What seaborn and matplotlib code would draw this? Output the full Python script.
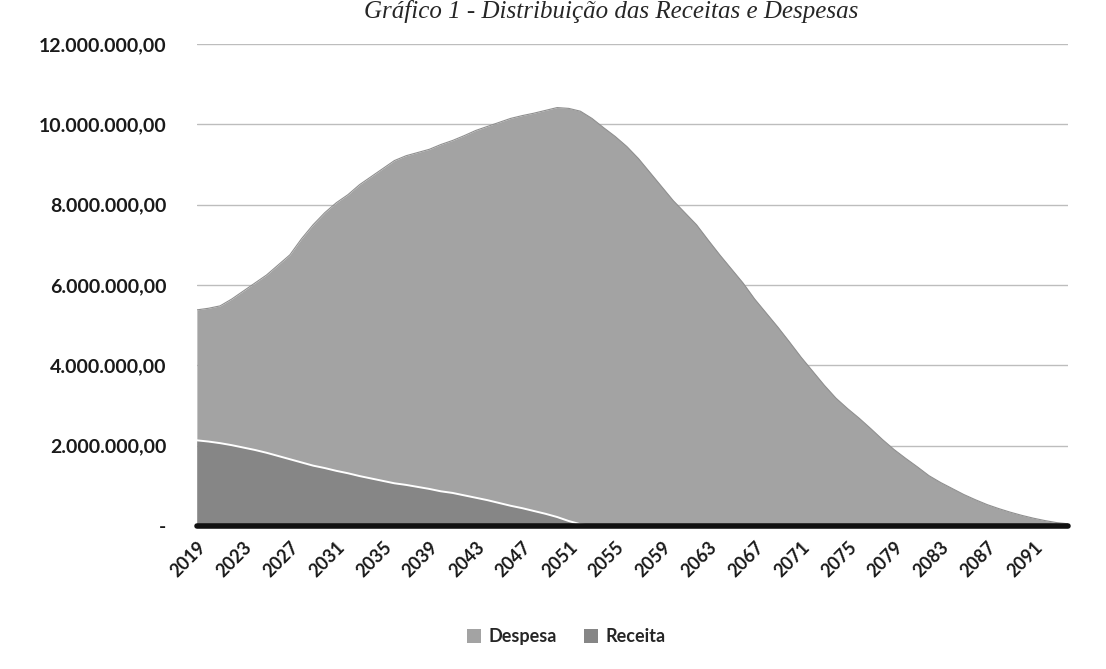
import numpy as np
import pandas as pd
import matplotlib
matplotlib.use("Agg")
import matplotlib.pyplot as plt
import matplotlib.ticker as mticker
import seaborn as sns

# Anos da projeção
anos = list(range(2019, 2095))

# Despesa (milhões R$)
despesa_mi = [
    5.38, 5.42, 5.48, 5.65, 5.85, 6.05, 6.25, 6.50, 6.75, 7.15,
    7.50, 7.80, 8.05, 8.25, 8.50, 8.70, 8.90, 9.10, 9.22, 9.30,
    9.38, 9.50, 9.60, 9.72, 9.85, 9.95, 10.05, 10.15, 10.22, 10.28,
    10.35, 10.42, 10.40, 10.33, 10.15, 9.92, 9.70, 9.45, 9.15, 8.80,
    8.45, 8.10, 7.80, 7.50, 7.12, 6.75, 6.40, 6.05, 5.65, 5.30,
    4.95, 4.58, 4.20, 3.85, 3.50, 3.18, 2.92, 2.68, 2.42, 2.15,
    1.90, 1.68, 1.47, 1.25, 1.08, 0.93, 0.78, 0.65, 0.53, 0.43,
    0.34, 0.26, 0.19, 0.13, 0.08, 0.05,
]

# Receita (milhões R$)
receita_mi = [
    2.13, 2.10, 2.06, 2.01, 1.95, 1.89, 1.82, 1.74, 1.66, 1.58,
    1.50, 1.44, 1.37, 1.31, 1.24, 1.18, 1.12, 1.06, 1.02, 0.97,
    0.92, 0.86, 0.82, 0.76, 0.70, 0.64, 0.57, 0.50, 0.44, 0.37,
    0.30, 0.22, 0.12, 0.04,
] + [0.0] * 42

df = pd.DataFrame({
    "Ano": anos,
    "Despesa": np.array(despesa_mi) * 1e6,
    "Receita": np.array(receita_mi) * 1e6,
})
df["idx"] = np.arange(len(df))

COR_DESPESA = "#a3a3a3"
COR_RECEITA = "#868686"

sns.set_theme(style="white")
plt.rcParams["font.family"] = ["Lato", "DejaVu Sans"]

fig = plt.figure(figsize=(11.06, 6.69), dpi=100)
ax = fig.add_axes([0.178, 0.214, 0.788, 0.72])

# gridlines atrás das áreas
for v in range(2, 13, 2):
    ax.axhline(v * 1e6, color="#bdbdbd", linewidth=1, zorder=0)

ax.fill_between(df["idx"], 0, df["Despesa"], color=COR_DESPESA, linewidth=0, zorder=1, label="Despesa")
ax.fill_between(df["idx"], 0, df["Receita"], color=COR_RECEITA, linewidth=0, zorder=2, label="Receita")
sns.lineplot(data=df, x="idx", y="Receita", ax=ax, color="white", linewidth=1.4, zorder=3, legend=False)
sns.lineplot(data=df, x="idx", y="Despesa", ax=ax, color="#8f8f8f", linewidth=0.8, zorder=2, legend=False)

ax.axhline(0, color="#111111", linewidth=4, zorder=4, clip_on=False)

ax.set_xlim(0, len(df) - 1)
ax.set_ylim(0, 12e6)

def fmt_br(v, pos):
    if abs(v) < 1:
        return "-"
    s = f"{v:,.2f}"
    return s.replace(",", "X").replace(".", ",").replace("X", ".")

ax.yaxis.set_major_locator(mticker.MultipleLocator(2e6))
ax.yaxis.set_major_formatter(mticker.FuncFormatter(fmt_br))

ticks = list(range(0, len(df), 4))
ax.set_xticks(ticks)
ax.set_xticklabels([str(anos[i]) for i in ticks], rotation=45, ha="right",
                   rotation_mode="anchor", fontsize=13, fontweight="bold", color="#1a1a1a")
ax.tick_params(axis="y", labelsize=14, pad=22, length=0, labelcolor="#1a1a1a")
ax.tick_params(axis="x", length=0, pad=9)
for lab in ax.get_yticklabels():
    lab.set_fontweight("bold")

ax.set_xlabel("")
ax.set_ylabel("")
for s in ax.spines.values():
    s.set_visible(False)

handles, labels = ax.get_legend_handles_labels()
leg = fig.legend(handles[:2], labels[:2], loc="center", bbox_to_anchor=(0.512, 0.048),
                 ncol=2, frameon=False, fontsize=13, handlelength=0.8, handleheight=0.8,
                 columnspacing=1.5, handletextpad=0.4)
for t in leg.get_texts():
    t.set_fontweight("bold")

fig.text(0.553, 1 - 18 / 669, "Gráfico 1 - Distribuição das Receitas e Despesas",
         ha="center", va="baseline", fontsize=18, style="italic",
         family=["Liberation Serif", "DejaVu Serif"])

fig.savefig("out.png", dpi=100, facecolor="white")
